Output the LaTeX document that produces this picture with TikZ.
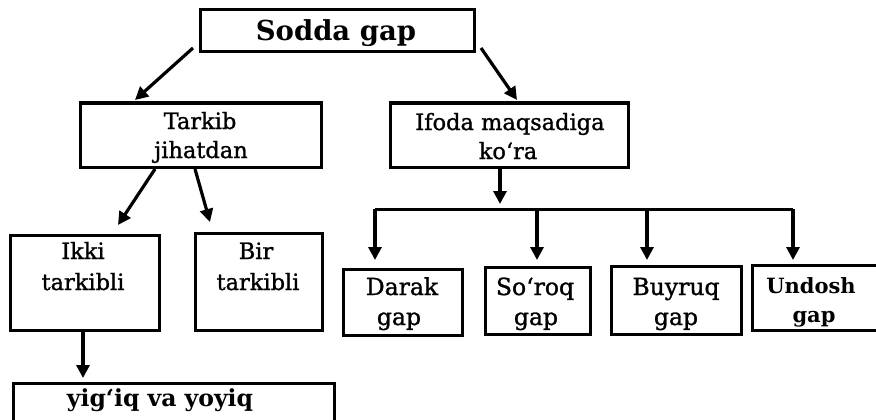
\documentclass[tikz,border=0pt]{standalone}
\usepackage{fontspec}
\setmainfont{DejaVu Serif}
\newfontfamily\heavyrm{DejaVu Serif}[FakeBold=1.2]
\usetikzlibrary{arrows.meta}
\begin{document}
\begin{tikzpicture}[x=1pt,y=-1pt,
  box/.style={draw, line width=3pt, inner sep=0pt, outer sep=0pt, anchor=north west},
  lbl/.style={inner sep=0pt, anchor=base, font=\heavyrm\fontsize{22.5}{26}\selectfont},
  lblb/.style={lbl, font=\bfseries\fontsize{21}{24}\selectfont},
  lbls/.style={lbl, font=\heavyrm\fontsize{23.5}{27}\selectfont},
  arr/.style={line width=3.2pt, -{Triangle[length=13pt,width=13pt]}},
  ln/.style={line width=3pt}]
\useasboundingbox (0,0) rectangle (876,420);
% boxes: name, x, y, width, height
\newcommand\mybox[5]{\node[box, minimum width=#4pt, minimum height=#5pt] (#1) at (#2,#3) {};}
\mybox{sodda}{200}{10}{274}{42}
\mybox{tarkib}{80}{103}{241}{64}
\mybox{ifoda}{390}{103}{238}{64}
\mybox{ikki}{10}{235}{149}{95}
\mybox{bir}{195}{233}{127}{97}
\mybox{darak}{343}{269}{119}{66}
\mybox{soroq}{485}{267}{105}{67}
\mybox{buyruq}{611}{266}{130}{68}
\mybox{undosh}{752}{265}{140}{65}
\mybox{yigiq}{13}{383}{321}{60}
% texts
\node[lbl, font=\bfseries\fontsize{27.5}{30}\selectfont] (t0) at (336,41) {Sodda gap};
\node[lbl] (t1a) at (200,129) {Tarkib};
\node[lbl] (t1b) at (201,158) {jihatdan};
\node[lbl] (t2a) at (510,130) {Ifoda maqsadiga};
\node[lbl] (t2b) at (508,159) {ko‘ra};
\node[lbl] (t3a) at (83,259) {Ikki};
\node[lbl] (t3b) at (83,290) {tarkibli};
\node[lbl] (t4a) at (256,259) {Bir};
\node[lbl] (t4b) at (258,290) {tarkibli};
\node[lbls] (t5a) at (402,295) {Darak};
\node[lbls] (t5b) at (399,325) {gap};
\node[lbls] (t6a) at (535,295) {So‘roq};
\node[lbls] (t6b) at (536,325) {gap};
\node[lbls] (t7a) at (676,295) {Buyruq};
\node[lbls] (t7b) at (676,325) {gap};
\node[lblb] (t8a) at (811,293) {Undosh};
\node[lblb] (t8b) at (814,322) {gap};
\node[lblb, font=\bfseries\fontsize{23.5}{26}\selectfont] (t9) at (160,406) {yig‘iq va yoyiq};
% connectors
\draw[arr] ([shift={(-7,-4)}]sodda.south west) -- ([shift={(55,-3)}]tarkib.north west);
\draw[arr] ([shift={(7,-4)}]sodda.south east) -- ([shift={(127,-3)}]ifoda.north west);
\draw[arr] ([shift={(75,2)}]tarkib.south west) -- ([shift={(108,-10)}]ikki.north west);
\draw[arr] ([shift={(115,2)}]tarkib.south west) -- ([shift={(15,-11)}]bir.north west);
\coordinate (bus) at (500,209);
\coordinate (c1) at (375,209);
\coordinate (c2) at (537,209);
\coordinate (c3) at (647,209);
\coordinate (c4) at (793,209);
\draw[arr, shorten >=5pt] ([xshift=-9pt]ifoda.south) -- (bus);
\draw[ln] (c1) -- (c4);
\draw[arr, shorten >=9pt] (c1) -- (c1 |- darak.north);
\draw[arr, shorten >=7pt] (c2) -- (c2 |- soroq.north);
\draw[arr, shorten >=6pt] (c3) -- (c3 |- buyruq.north);
\draw[arr, shorten >=5pt] (c4) -- (c4 |- undosh.north);
\draw[arr, shorten >=5pt] ([xshift=-1.5pt]ikki.south) -- ([xshift=-1.5pt]ikki.south |- yigiq.north);
\end{tikzpicture}
\end{document}
